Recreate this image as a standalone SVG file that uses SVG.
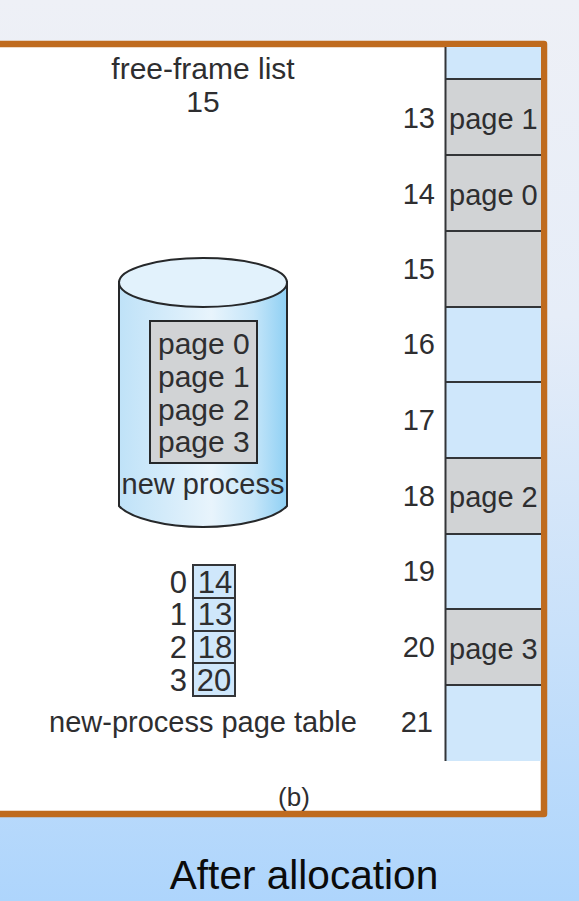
<svg xmlns="http://www.w3.org/2000/svg" width="579" height="901" viewBox="0 0 579 901">
<defs>
<linearGradient id="bg" x1="0" y1="0" x2="0" y2="1"><stop offset="0" stop-color="#eef0f6"/><stop offset="0.35" stop-color="#e6edf8"/><stop offset="0.7" stop-color="#c9e1fa"/><stop offset="1" stop-color="#aed5fc"/></linearGradient>
<linearGradient id="cyl" x1="0" y1="0" x2="1" y2="0"><stop offset="0" stop-color="#bfe2f8"/><stop offset="0.55" stop-color="#e8f4fc"/><stop offset="0.8" stop-color="#c6e6f9"/><stop offset="1" stop-color="#8fd0f4"/></linearGradient>
<style>
text{font-family:"Liberation Sans",Arial,sans-serif;fill:#2e2e30;font-size:29px}
.c{text-anchor:middle}
.r{text-anchor:end}
.f{stroke:#333538;stroke-width:2}
.g{fill:#d1d3d5}
.b{fill:#cfe7fb}
.p{font-size:30px}
.t{font-size:31px}
</style>
</defs>
<rect width="579" height="901" fill="url(#bg)"/>
<path d="M-4 44H544V814H-4Z" fill="#fff" stroke="#bf6b1e" stroke-width="6.500" stroke-linejoin="round"/>
<g id="memory">
<rect class="b" x="446" y="47" width="95" height="32"/>
<rect class="g" x="446" y="79" width="95" height="152"/>
<rect class="g" x="446" y="231" width="95" height="76"/>
<rect class="b" x="446" y="307" width="95" height="151"/>
<rect class="g" x="446" y="458" width="95" height="76"/>
<rect class="b" x="446" y="534" width="95" height="75"/>
<rect class="g" x="446" y="609" width="95" height="76"/>
<rect class="b" x="446" y="685" width="95" height="76"/>
<path class="f" fill="none" d="M445.500 47V761M446 79H541M446 155H541M446 231H541M446 307H541M446 382H541M446 458H541M446 534H541M446 609H541M446 685H541"/>
<text x="449" y="129">page 1</text>
<text x="449" y="205">page 0</text>
<text x="449" y="507">page 2</text>
<text x="449" y="659">page 3</text>
<text class="r" x="435" y="128">13</text>
<text class="r" x="435" y="204">14</text>
<text class="r" x="435" y="279">15</text>
<text class="r" x="435" y="354">16</text>
<text class="r" x="435" y="430">17</text>
<text class="r" x="435" y="506">18</text>
<text class="r" x="435" y="581">19</text>
<text class="r" x="435" y="657">20</text>
<text class="r" x="433" y="732">21</text>
</g>
<g id="free-frame-list">
<text class="c p" x="203" y="79">free-frame list</text>
<text class="c p" x="203" y="112">15</text>
</g>
<g id="new-process">
<path d="M119 282V506C130 518 165 527 203 527S276 518 287 506V282Z" fill="url(#cyl)" stroke="#26282a" stroke-width="2"/>
<ellipse cx="203" cy="282.500" rx="84" ry="24.500" fill="#e2f2fc" stroke="#26282a" stroke-width="2"/>
<rect class="g" x="150" y="321" width="107" height="142" stroke="#26282a" stroke-width="2"/>
<text class="p" x="158" y="354">page 0</text>
<text class="p" x="158" y="387">page 1</text>
<text class="p" x="158" y="420">page 2</text>
<text class="p" x="158" y="452">page 3</text>
<text class="c" x="203" y="494">new process</text>
</g>
<g id="page-table">
<rect class="b" x="193" y="565" width="42" height="131"/>
<path class="f" fill="none" d="M193 565H235V696H193ZM193 598H235M193 631H235M193 663H235"/>
<text class="c t" x="215" y="593">14</text>
<text class="c t" x="215" y="625">13</text>
<text class="c t" x="215" y="658">18</text>
<text class="c t" x="214" y="691">20</text>
<text class="r t" x="187" y="593">0</text>
<text class="r t" x="187" y="625">1</text>
<text class="r t" x="187" y="658">2</text>
<text class="r t" x="187" y="691">3</text>
<text class="c" x="203" y="732">new-process page table</text>
</g>
<text id="caption-b" class="c" x="294" y="806" style="font-size:26px">(b)</text>
<text id="caption" class="c" x="304" y="889" style="font-size:40.600px;fill:#0b0b0b">After allocation</text>
</svg>
